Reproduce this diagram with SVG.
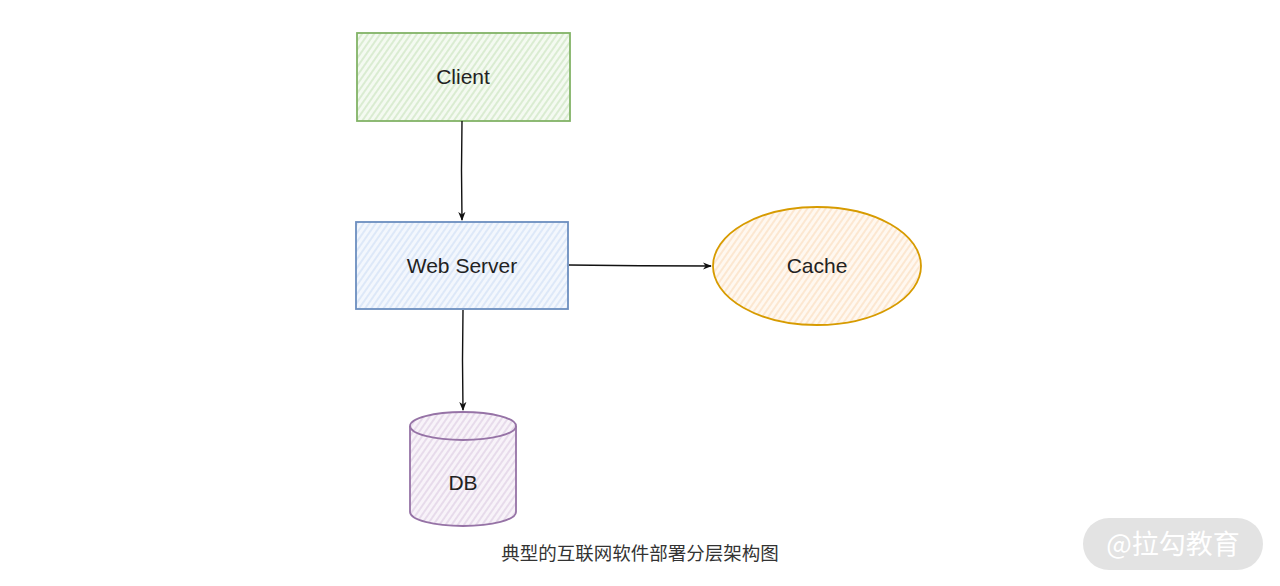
<svg xmlns="http://www.w3.org/2000/svg" width="1280" height="586" viewBox="0 0 1280 586">
<defs>
<pattern id="hg" width="5" height="5" patternUnits="userSpaceOnUse" patternTransform="rotate(35)"><rect width="5" height="5" fill="#f4faf1"/><line x1="1" y1="0" x2="1" y2="5" stroke="#c9e3bd" stroke-width="1.2"/></pattern>
<pattern id="hb" width="5" height="5" patternUnits="userSpaceOnUse" patternTransform="rotate(35)"><rect width="5" height="5" fill="#f3f7fd"/><line x1="1" y1="0" x2="1" y2="5" stroke="#cfdff6" stroke-width="1.2"/></pattern>
<pattern id="ho" width="5" height="5" patternUnits="userSpaceOnUse" patternTransform="rotate(35)"><rect width="5" height="5" fill="#fff8f0"/><line x1="1" y1="0" x2="1" y2="5" stroke="#fbdcbc" stroke-width="1.2"/></pattern>
<pattern id="hp" width="5" height="5" patternUnits="userSpaceOnUse" patternTransform="rotate(35)"><rect width="5" height="5" fill="#f8f3f9"/><line x1="1" y1="0" x2="1" y2="5" stroke="#ddcbe3" stroke-width="1.2"/></pattern>
<marker id="ar" viewBox="0 0 10 10" refX="9" refY="5" markerWidth="9" markerHeight="9" orient="auto" markerUnits="userSpaceOnUse"><path d="M0,1 L10,5 L0,9 L3,5 Z" fill="#111"/></marker>
</defs>
<style>
.lbl{font-family:"Liberation Sans",Arial,sans-serif;font-size:21px;fill:#222;text-anchor:middle}
.cap{font-family:"Noto Sans CJK SC",sans-serif;font-size:18.5px;fill:#333;text-anchor:middle}
.edge{fill:none;stroke:#111;stroke-width:1.4}
</style>
<rect width="1280" height="586" fill="#fff"/>
<g id="client">
<rect x="357" y="33" width="213" height="88" fill="url(#hg)" stroke="#82b366" stroke-width="1.8"/>
<text class="lbl" x="463" y="84">Client</text>
</g>
<g id="webserver">
<rect x="356" y="222" width="212" height="87" fill="url(#hb)" stroke="#6c8ebf" stroke-width="1.8"/>
<text class="lbl" x="462" y="273">Web Server</text>
</g>
<g id="cache">
<ellipse cx="817" cy="266" rx="104" ry="59" fill="url(#ho)" stroke="#d79b00" stroke-width="1.8"/>
<text class="lbl" x="817" y="273">Cache</text>
</g>
<g id="db">
<path d="M410,426 L410,512 A53,14 0 0 0 516,512 L516,426 A53,14 0 0 0 410,426 Z" fill="url(#hp)" stroke="#9673a6" stroke-width="1.8"/>
<path d="M410,426 A53,14 0 0 0 516,426" fill="none" stroke="#9673a6" stroke-width="1.8"/>
<text class="lbl" x="463" y="490">DB</text>
</g>
<g id="connectors">
<path class="edge" d="M462,121 Q461,170 462,220" marker-end="url(#ar)"/>
<path class="edge" d="M569,265 Q640,266 711,266" marker-end="url(#ar)"/>
<path class="edge" d="M463,310 Q462,360 463,410" marker-end="url(#ar)"/>
</g>
<text class="cap" x="640" y="560">典型的互联网软件部署分层架构图</text>
<g id="watermark">
<rect x="1083" y="518" width="180" height="52" rx="26" fill="#e3e3e3"/>
<text x="1173" y="554" font-family="Noto Sans CJK SC,sans-serif" font-size="27" fill="#fff" text-anchor="middle">@拉勾教育</text>
</g>
</svg>
